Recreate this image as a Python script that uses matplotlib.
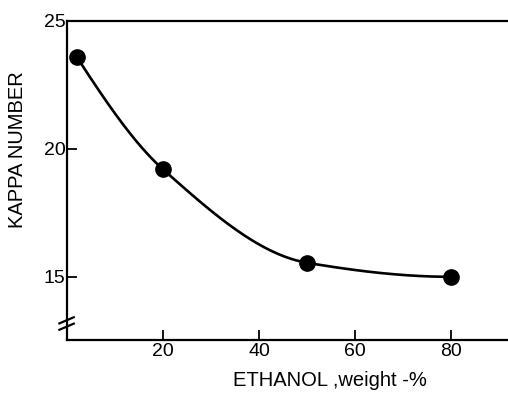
import matplotlib
matplotlib.use("Agg")
import matplotlib.pyplot as plt
import numpy as np

# kappa number of the pulp vs ethanol content of the cooking liquor
ethanol = [2, 20, 50, 80]
kappa = [23.6, 19.2, 15.55, 15.0]
xticks = [20, 40, 60, 80]
yticks = [15, 20, 25]

plt.rcParams['font.family'] = ['Liberation Sans', 'DejaVu Sans']


def pchip(x, y, xs):
    # monotone cubic hermite curve (Fritsch-Carlson slopes)
    x = np.asarray(x, float)
    y = np.asarray(y, float)
    h = np.diff(x)
    d = np.diff(y) / h
    m = np.zeros_like(y)
    for k in range(1, len(x) - 1):
        if d[k - 1] * d[k] > 0:
            w1 = 2 * h[k] + h[k - 1]
            w2 = h[k] + 2 * h[k - 1]
            m[k] = (w1 + w2) / (w1 / d[k - 1] + w2 / d[k])
    m[0] = ((2 * h[0] + h[1]) * d[0] - h[0] * d[1]) / (h[0] + h[1])
    m[-1] = ((2 * h[-1] + h[-2]) * d[-1] - h[-1] * d[-2]) / (h[-1] + h[-2])
    if m[-1] * d[-1] <= 0:
        m[-1] = 0.0
    i = np.clip(np.searchsorted(x, xs) - 1, 0, len(x) - 2)
    t = (xs - x[i]) / h[i]
    h00 = 2 * t**3 - 3 * t**2 + 1
    h10 = t**3 - 2 * t**2 + t
    h01 = -2 * t**3 + 3 * t**2
    h11 = t**3 - t**2
    return h00 * y[i] + h10 * h[i] * m[i] + h01 * y[i + 1] + h11 * h[i] * m[i + 1]


fig = plt.figure(figsize=(5.08, 3.94), dpi=100)
ax = fig.add_axes([0.132, 0.137, 0.868, 0.81])

xs = np.linspace(ethanol[0], ethanol[-1], 300)
ax.plot(xs, pchip(ethanol, kappa, xs), color='black', lw=1.9)
ax.plot(ethanol, kappa, 'o', color='black', ms=11)

ax.set_xlim(0, 91.9)
ax.set_ylim(12.53, 25)
ax.set_xticks(xticks)
ax.set_yticks(yticks)
ax.tick_params(direction='in', length=7, width=1.3, labelsize=14, pad=2)
ax.tick_params(axis='y', pad=1)
ax.spines['right'].set_visible(False)
for s in ['left', 'bottom', 'top']:
    ax.spines[s].set_linewidth(1.6)

# axis break marks on the y axis
yb = 13.3
for dy in (0.0, -0.25):
    ax.plot([-1.6, 1.4], [yb + dy - 0.12, yb + dy + 0.12], color='black',
            lw=1.6, clip_on=False)

fig.text(0.034, 0.62, 'KAPPA NUMBER', rotation=90, fontsize=14.5,
         ha='center', va='center')
fig.text(0.65, 0.035, 'ETHANOL ,weight -%', fontsize=14.5,
         ha='center', va='center')

fig.savefig('out.png', dpi=100)
